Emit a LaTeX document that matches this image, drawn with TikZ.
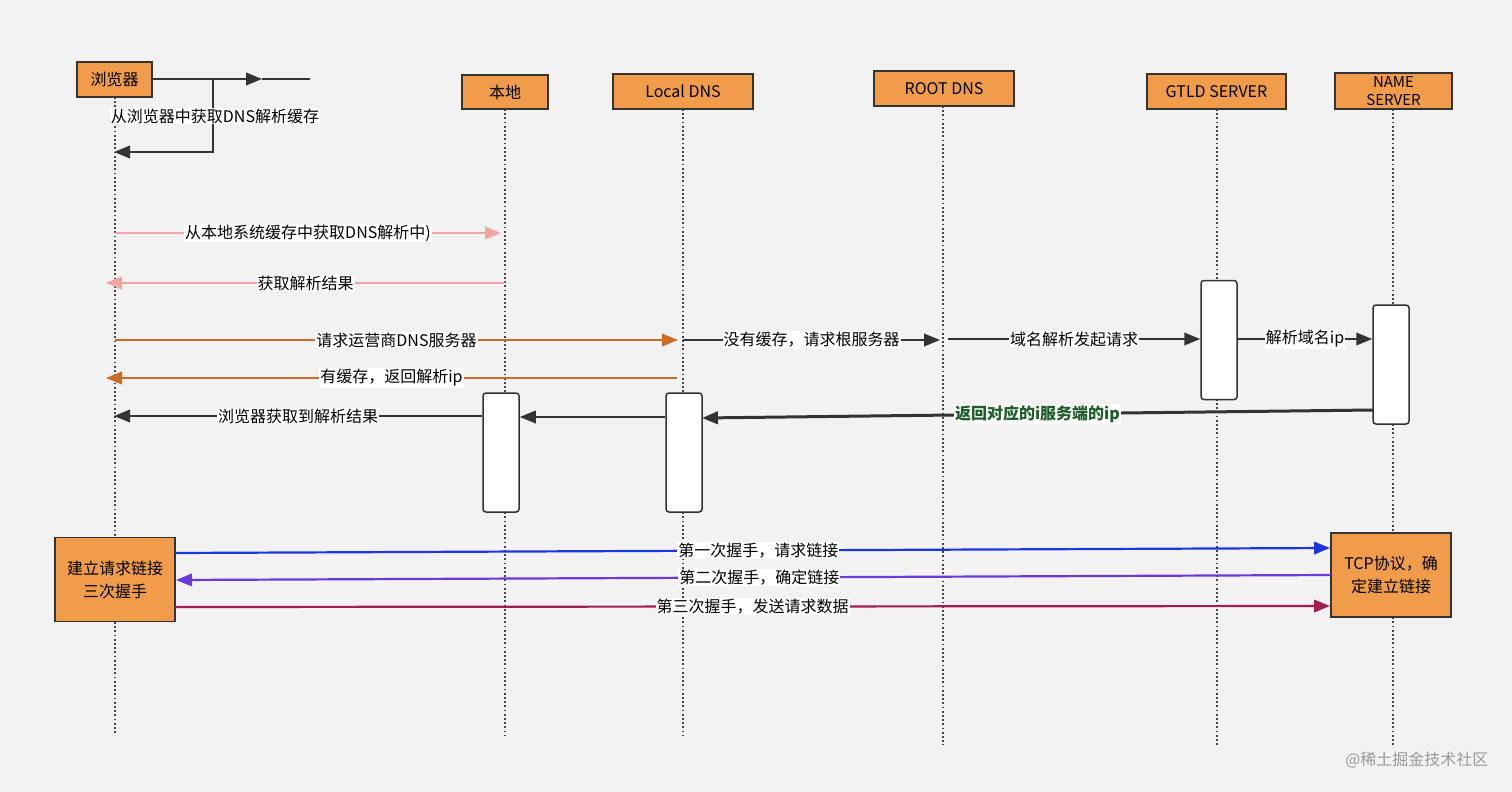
\documentclass[tikz,border=0pt]{standalone}
\usepackage{fontspec}
\setmainfont{Noto Sans CJK SC}
\usetikzlibrary{arrows.meta}
\definecolor{bg}{HTML}{F2F2F2}
\definecolor{boxor}{HTML}{F09C4A}
\definecolor{boxline}{HTML}{333333}
\definecolor{pinkline}{HTML}{F2A3A3}
\definecolor{orline}{HTML}{CC6D26}
\definecolor{darkline}{HTML}{333333}
\definecolor{blueline}{HTML}{1C36E0}
\definecolor{purpline}{HTML}{6A3AD6}
\definecolor{redline}{HTML}{A11F4E}
\definecolor{greentext}{HTML}{1F5E2A}
\definecolor{lifec}{HTML}{444444}
\definecolor{wm}{HTML}{9A9A9A}
\begin{document}
\begin{tikzpicture}[x=1pt,y=-1pt,
  actor/.style={draw=boxline,line width=1.5pt,fill=boxor,inner sep=1pt,
    font=\fontsize{16}{17}\selectfont,align=center},
  life/.style={draw=lifec,line width=2pt,dash pattern=on 1.8pt off 2.4pt},
  act/.style={draw=boxline,line width=1.5pt,fill=white,rounded corners=3pt,
    minimum width=36pt,minimum height=119pt,inner sep=0pt},
  msg/.style={line width=2.2pt,-{Triangle[length=16pt,width=12.5pt]}},
  lbl/.style={fill=white,inner sep=1pt,font=\fontsize{16}{17}\selectfont},
  bigbox/.style={draw=boxline,line width=1.8pt,fill=boxor,inner sep=2pt,
    minimum width=120pt,minimum height=84pt,align=center,
    font=\fontsize{16}{23}\selectfont}]
\fill[bg] (0,0) rectangle (1512,792);
\useasboundingbox (0,0) rectangle (1512,792);

% actors
\node[actor,minimum width=75pt,minimum height=35pt] (br) at (114.5,79.5) {浏览器};
\node[actor,minimum width=86pt,minimum height=34pt] (lo) at (505,92) {本地};
\node[actor,minimum width=140pt,minimum height=35pt] (ld) at (683,91.5) {Local DNS};
\node[actor,minimum width=140pt,minimum height=35pt] (rd) at (944,88.5) {ROOT DNS};
\node[actor,minimum width=139pt,minimum height=35pt] (gt) at (1216.5,91.5) {GTLD SERVER};
\node[actor,minimum width=117pt,minimum height=36pt,font=\fontsize{15}{18}\selectfont] (ns) at (1393.5,91) {NAME\\SERVER};

% lifeline ends
\coordinate (brE) at (115,735);
\coordinate (loE) at (505,735);
\coordinate (ldE) at (683,735);
\coordinate (rdE) at (943,745);
\coordinate (gtE) at (1217,745);
\coordinate (nsE) at (1393,745);
\draw[life] (115,97) -- (brE);
\draw[life] (505,109) -- (loE);
\draw[life] (683,109) -- (ldE);
\draw[life] (943,106) -- (rdE);
\draw[life] (1217,109) -- (gtE);
\draw[life] (1393,109) -- (nsE);

% activation boxes
\node[act] (a1) at (501,452.5) {};
\node[act] (a2) at (684,452.5) {};
\node[act] (a3) at (1219,340) {};
\node[act] (a4) at (1391,364.5) {};

% self message
\coordinate (sA) at (262,79);
\coordinate (sB) at (310,79);
\coordinate (sC) at (213,79);
\coordinate (sD) at (213,152);
\coordinate (sE) at (114,152);
\draw[msg,draw=darkline,fill=darkline] (br.east|-sA) -- (sA);
\draw[line width=2.2pt,draw=darkline] (sA) -- (sB);
\draw[msg,draw=darkline] (sC) -- (sD) -- (sE);
\node[lbl] (sL) at (215,116) {从浏览器中获取DNS解析缓存};

% messages
\coordinate (p1s) at (115,233); \coordinate (p1e) at (501,233);
\draw[msg,draw=pinkline] (p1s) -- node[lbl] {从本地系统缓存中获取DNS解析中)} (p1e);
\coordinate (p2s) at (505,283); \coordinate (p2e) at (106,283);
\draw[msg,draw=pinkline] (p2s) -- node[lbl] {获取解析结果} (p2e);
\coordinate (o1s) at (115,340); \coordinate (o1e) at (678,340);
\draw[msg,draw=orline] (o1s) -- node[lbl] {请求运营商DNS服务器} (o1e);
\coordinate (d1s) at (683,340); \coordinate (d1e) at (940,340);
\draw[msg,draw=darkline] (d1s) -- node[lbl] {没有缓存，请求根服务器} (d1e);
\coordinate (d2s) at (948,339);
\draw[msg,draw=darkline] (d2s) -- node[lbl] {域名解析发起请求} (a3.west|-d2s);
\draw[msg,draw=darkline] (a3.east|-d2s) -- node[lbl] {解析域名ip} (a4.west|-d2s);
\coordinate (o2s) at (677,378); \coordinate (o2e) at (106,378);
\draw[msg,draw=orline] (o2s) -- node[lbl] {有缓存，返回解析ip} (o2e);
\coordinate (r1s) at (1373,410); \coordinate (r1e) at (702,418);
\draw[msg,draw=darkline,line width=3pt] (r1s) -- node[lbl,text=greentext,font=\fontsize{16}{17}\selectfont\bfseries] {返回对应的i服务端的ip} (r1e);
\coordinate (r2y) at (0,417);
\draw[msg,draw=darkline] (a2.west|-r2y) -- (a1.east|-r2y);
\coordinate (r3e) at (114,416);
\draw[msg,draw=darkline] (a1.west|-r3e) -- node[lbl] {浏览器获取到解析结果} (r3e);

% handshake boxes
\node[bigbox] (hl) at (115,579.5) {建立请求链接\\三次握手};
\node[bigbox] (hr) at (1391,575) {TCP协议，确\\定建立链接};
\coordinate (h1s) at (175,553); \coordinate (h1e) at (1330,548);
\draw[msg,draw=blueline] (h1s) -- node[lbl,pos=0.505] {第一次握手，请求链接} (h1e);
\coordinate (h2s) at (1331,575); \coordinate (h2e) at (176,580);
\draw[msg,draw=purpline] (h2s) -- node[lbl,pos=0.495] {第二次握手，确定链接} (h2e);
\coordinate (h3s) at (175,607); \coordinate (h3e) at (1330,606);
\draw[msg,draw=redline] (h3s) -- node[lbl] {第三次握手，发送请求数据} (h3e);

% watermark
\node[text=wm,font=\fontsize{16}{17}\selectfont,anchor=east] (wmk) at (1492,760) {@稀土掘金技术社区};
\end{tikzpicture}
\end{document}
